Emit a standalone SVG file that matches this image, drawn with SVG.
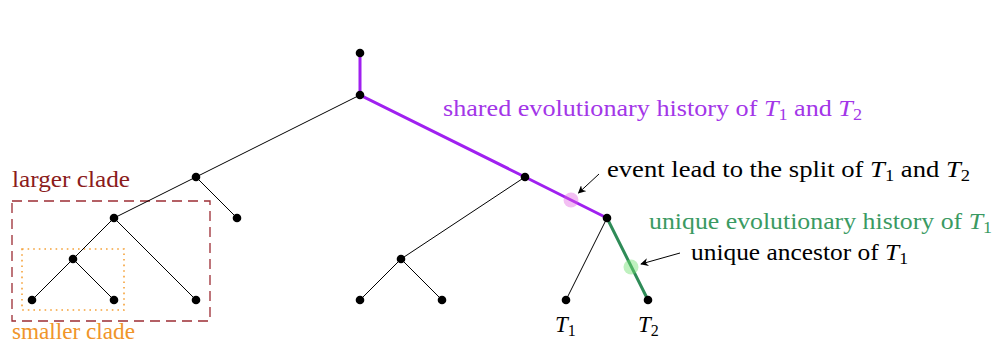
<svg xmlns="http://www.w3.org/2000/svg" width="996" height="343" viewBox="0 0 996 343">
<defs>
<marker id="ah" viewBox="0 0 10 10" refX="9" refY="5" markerWidth="8" markerHeight="8" markerUnits="userSpaceOnUse" orient="auto">
<path d="M0,0 L10,5 L0,10 L3,5 Z" fill="#000"/>
</marker>
</defs>
<style>
text{font-family:'Liberation Serif','DejaVu Serif',serif;font-size:23px}
.it{font-style:italic}
.sub{font-size:16px}
.edge{stroke:#000;stroke-width:1;fill:none}
.node{fill:#000}
</style>
<rect x="12" y="201" width="198" height="120" fill="none" stroke="#9c2c33" stroke-width="1.3" stroke-dasharray="10,6"/>
<rect x="22" y="249" width="102" height="61" fill="none" stroke="#f5a23a" stroke-width="1.6" stroke-dasharray="1.6,4"/>
<text x="12" y="187" fill="#8b1c1c" textLength="118" lengthAdjust="spacingAndGlyphs">larger clade</text>
<text x="12" y="339" fill="#f0952a" textLength="123" lengthAdjust="spacingAndGlyphs">smaller clade</text>
<g id="connectors">
<path class="edge" d="M360,95 L196,177 M196,177 L114,218 M196,177 L237,218 M114,218 L73,259 M114,218 L196,300 M73,259 L32,300 M73,259 L114,300 M525,177 L401,259 M401,259 L360,300 M401,259 L442,300 M607,218 L566,300"/>
<path d="M360,53 L360,95 L525,177 L607,218" fill="none" stroke="#a020f0" stroke-width="3"/>
<path d="M607,218 L648,300" fill="none" stroke="#2e8b57" stroke-width="3"/>
<circle cx="571" cy="200" r="7.5" fill="#e060e0" fill-opacity="0.4"/>
<circle cx="631" cy="267" r="7.5" fill="#70e070" fill-opacity="0.45"/>
<line x1="599" y1="174" x2="578.5" y2="193" stroke="#000" stroke-width="1" marker-end="url(#ah)"/>
<line x1="680" y1="253" x2="641" y2="264" stroke="#000" stroke-width="1" marker-end="url(#ah)"/>
</g>
<g id="n-root"><circle class="node" cx="360" cy="53" r="4.3"/></g>
<g id="n-a"><circle class="node" cx="360" cy="95" r="4.3"/></g>
<g id="n-b"><circle class="node" cx="196" cy="177" r="4.3"/></g>
<g id="n-c"><circle class="node" cx="114" cy="218" r="4.3"/></g>
<g id="n-d"><circle class="node" cx="237" cy="218" r="4.3"/></g>
<g id="n-e"><circle class="node" cx="73" cy="259" r="4.3"/></g>
<g id="n-f"><circle class="node" cx="32" cy="300" r="4.3"/></g>
<g id="n-g"><circle class="node" cx="114" cy="300" r="4.3"/></g>
<g id="n-h"><circle class="node" cx="196" cy="300" r="4.3"/></g>
<g id="n-i"><circle class="node" cx="525" cy="177" r="4.3"/></g>
<g id="n-j"><circle class="node" cx="401" cy="259" r="4.3"/></g>
<g id="n-k"><circle class="node" cx="360" cy="300" r="4.3"/></g>
<g id="n-l"><circle class="node" cx="442" cy="300" r="4.3"/></g>
<g id="n-m"><circle class="node" cx="607" cy="218" r="4.3"/></g>
<g id="n-t1"><circle class="node" cx="566" cy="300" r="4.3"/><text x="555" y="332"><tspan class="it">T</tspan><tspan class="sub" dy="4">1</tspan></text></g>
<g id="n-t2"><circle class="node" cx="648" cy="300" r="4.3"/><text x="638" y="332"><tspan class="it">T</tspan><tspan class="sub" dy="4">2</tspan></text></g>
<text x="443" y="116" fill="#a336e8" textLength="419" lengthAdjust="spacingAndGlyphs">shared evolutionary history of <tspan class="it">T</tspan><tspan class="sub" dy="4">1</tspan><tspan dy="-4"> and </tspan><tspan class="it">T</tspan><tspan class="sub" dy="4">2</tspan></text>
<text x="607" y="177" fill="#000" textLength="363" lengthAdjust="spacingAndGlyphs">event lead to the split of <tspan class="it">T</tspan><tspan class="sub" dy="4">1</tspan><tspan dy="-4"> and </tspan><tspan class="it">T</tspan><tspan class="sub" dy="4">2</tspan></text>
<text x="649" y="229" fill="#3a9a62" textLength="343" lengthAdjust="spacingAndGlyphs">unique evolutionary history of <tspan class="it">T</tspan><tspan class="sub" dy="4">1</tspan></text>
<text x="691" y="260" fill="#000" textLength="217" lengthAdjust="spacingAndGlyphs">unique ancestor of <tspan class="it">T</tspan><tspan class="sub" dy="4">1</tspan></text>
</svg>
